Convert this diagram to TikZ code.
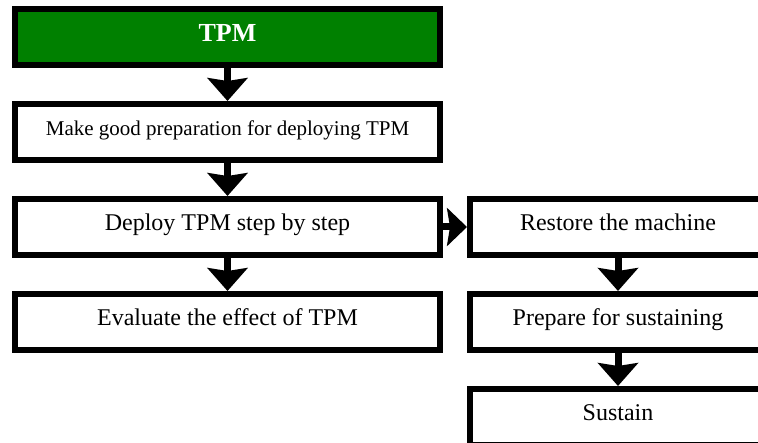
\documentclass[tikz,border=0pt]{standalone}
\usepackage{fontspec}
\setmainfont{Liberation Serif}
\usepackage{tikz}
\usetikzlibrary{positioning}
\usetikzlibrary{arrows.meta}

\definecolor{tpmgreen}{RGB}{0,128,0}

\begin{document}
\begin{tikzpicture}[
                node distance=33pt,
                leftbox/.style={rectangle, draw, fill=white, line width=6pt, minimum width=425pt, minimum height=56pt, inner sep=0pt, text height=17pt, text depth=10pt, font=\fontsize{24}{28}\selectfont},
                rightbox/.style={rectangle, draw, fill=white, line width=6pt, minimum width=296pt, minimum height=56pt, inner sep=0pt, text height=17pt, text depth=10pt, font=\fontsize{24}{28}\selectfont},
                topbox/.style={leftbox, fill=tpmgreen, text=white, text depth=8pt, font=\fontsize{26}{30}\selectfont\bfseries},
                bigarrow/.style={line width=7pt, -{Stealth[length=23pt, width=40pt, inset=3pt]}},
            ]
            \useasboundingbox (0,0) rectangle (758pt,-443pt);
            \clip (0,0) rectangle (758pt,-443pt);

            % Nodes
            \node[topbox]      (tpm)       at (227.5pt,-37pt)             {TPM};
            \node[leftbox, font=\fontsize{21}{25}\selectfont] (prepare_TPM) [below=of tpm] {Make good preparation for deploying TPM};
            \node[leftbox]     (deploy)    [below=of prepare_TPM]         {Deploy TPM step by step};
            \node[leftbox]     (evaluate)  [below=of deploy]              {Evaluate the effect of TPM};

            \node[rightbox]    (restore)   [right=24pt of deploy]         {Restore the machine};
            \node[rightbox]    (prepare_S) [below=of restore]             {Prepare for sustaining};
            \node[rightbox]    (sustain)   [below=of prepare_S]           {Sustain};

            %Lines
            \draw[bigarrow] (tpm.south) -- (prepare_TPM.north);
            \draw[bigarrow] (prepare_TPM.south) -- (deploy.north);
            \draw[bigarrow] (deploy.south) -- (evaluate.north);
            \draw[bigarrow, -{Stealth[length=20pt, width=38pt, inset=3pt]}] (deploy.east) -- (restore.west);

            \draw[bigarrow] (restore.south) -- (prepare_S.north);
            \draw[bigarrow] (prepare_S.south) -- (sustain.north);
        \end{tikzpicture}
\end{document}
